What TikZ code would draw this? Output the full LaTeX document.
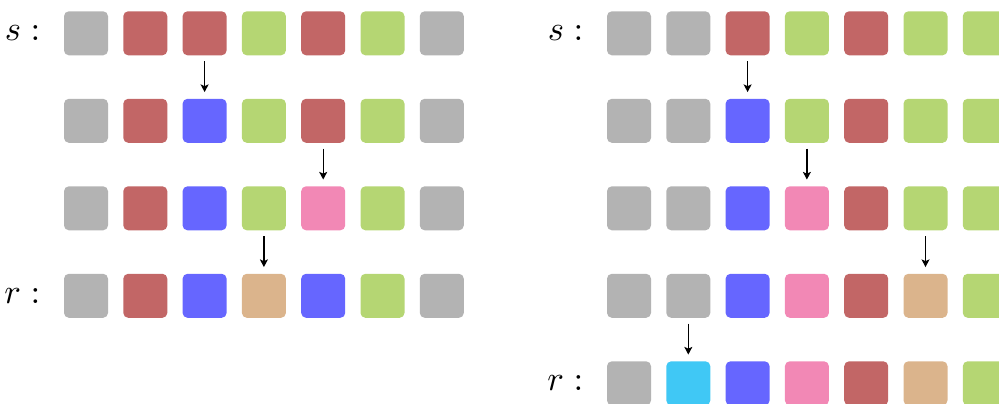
\documentclass[tikz,border=0pt]{standalone}
\usetikzlibrary{arrows.meta}
\definecolor{cgray}{HTML}{B3B3B3}
\definecolor{cred}{HTML}{C26666}
\definecolor{cblue}{HTML}{6666FF}
\definecolor{cgreen}{HTML}{B5D673}
\definecolor{cpink}{HTML}{F288B5}
\definecolor{ctan}{HTML}{DBB48C}
\definecolor{ccyan}{HTML}{40C8F5}
\tikzset{
  sq/.style={rectangle, rounded corners=1.4pt, minimum size=12.68pt, inner sep=0pt, draw=none},
  arr/.style={-{Stealth[length=2.2pt,width=2.3pt,inset=0.5pt]}, line width=0.4pt, shorten <=1.45pt, shorten >=1.75pt},
  lab/.style={inner sep=0pt, anchor=east}
}
\begin{document}
\begin{tikzpicture}[x=0.2882pt,y=-0.2882pt]
\useasboundingbox (0,0) rectangle (999,403);
% left grid
\foreach \row [count=\j] in {{cgray,cred,cred,cgreen,cred,cgreen,cgray},{cgray,cred,cblue,cgreen,cred,cgreen,cgray},{cgray,cred,cblue,cgreen,cpink,cgreen,cgray},{cgray,cred,cblue,ctan,cblue,cgreen,cgray}}{
  \foreach \c [count=\i] in \row {
    \node[sq, fill=\c] (L-\j-\i) at ({86+59.3*(\i-1)}, {33.3+87.5*(\j-1)}) {};
  }
}
% right grid
\foreach \row [count=\j] in {{cgray,cgray,cred,cgreen,cred,cgreen,cgreen},{cgray,cgray,cblue,cgreen,cred,cgreen,cgreen},{cgray,cgray,cblue,cpink,cred,cgreen,cgreen},{cgray,cgray,cblue,cpink,cred,ctan,cgreen},{cgray,ccyan,cblue,cpink,cred,ctan,cgreen}}{
  \foreach \c [count=\i] in \row {
    \node[sq, fill=\c] (R-\j-\i) at ({629+59.3*(\i-1)}, {33.3+87.5*(\j-1)}) {};
  }
}
% labels
\node[lab] (sL) at (41,33.3) {$s:$};
\node[lab] (rL) at (41,295.8) {$r:$};
\node[lab] (sR) at (584,33.3) {$s:$};
\node[lab] (rR) at (584,383.3) {$r:$};
% arrows left
\draw[arr] (L-1-3) -- (L-2-3);
\draw[arr] (L-2-5) -- (L-3-5);
\draw[arr] (L-3-4) -- (L-4-4);
% arrows right
\draw[arr] (R-1-3) -- (R-2-3);
\draw[arr] (R-2-4) -- (R-3-4);
\draw[arr] (R-3-6) -- (R-4-6);
\draw[arr] (R-4-2) -- (R-5-2);
\end{tikzpicture}
\end{document}
